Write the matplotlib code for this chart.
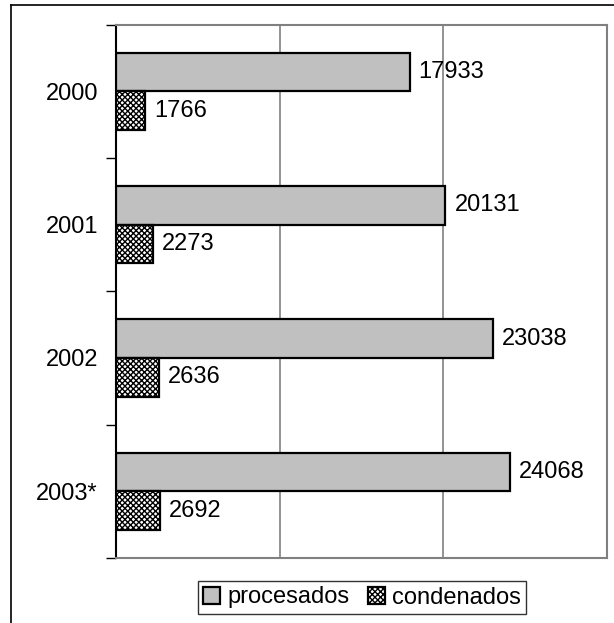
import numpy as np
import matplotlib.pyplot as plt
from matplotlib.lines import Line2D

plt.rcParams['font.family'] = ['Liberation Sans', 'DejaVu Sans']
plt.rcParams['hatch.linewidth'] = 1.0

years = ['2000', '2001', '2002', '2003*']
procesados = [17933, 20131, 23038, 24068]
condenados = [1766, 2273, 2636, 2692]

fig = plt.figure(figsize=(6.14, 6.23), dpi=100)
ax = fig.add_axes([116/614, 1 - 558/623, (607-116)/614, (558-24.5)/623])

y = np.arange(len(years))
h = 0.29
b1 = ax.barh(y - h/2, procesados, height=h, color='#c0c0c0', edgecolor='black', linewidth=1.6, zorder=3)
b2 = ax.barh(y + h/2, condenados, height=h, color='white', edgecolor='black', linewidth=1.6,
             hatch='xxxxxx', zorder=3)

for bars, vals in ((b1, procesados), (b2, condenados)):
    for bar, v in zip(bars, vals):
        ax.text(bar.get_width() + 550, bar.get_y() + bar.get_height()/2, str(v),
                va='center', ha='left', fontsize=17, zorder=4)

ax.set_xlim(0, 30000)
ax.set_ylim(len(years) - 0.5, -0.5)
ax.set_xticks([10000, 20000])
ax.xaxis.grid(True, color='#808080', linewidth=1.2, zorder=0)
ax.tick_params(axis='x', length=0, labelbottom=False)

ax.set_yticks(y)
ax.set_yticklabels(years, fontsize=17)
ax.set_yticks(np.arange(len(years) + 1) - 0.5, minor=True)
ax.tick_params(axis='y', which='major', length=0, pad=13)
ax.tick_params(axis='y', which='minor', length=7, width=1, direction='out')

for s in ('top', 'right', 'bottom'):
    ax.spines[s].set_color('#808080')
    ax.spines[s].set_linewidth(1.5)
ax.spines['left'].set_color('black')
ax.spines['left'].set_linewidth(1.5)

# outer frame (cut off at the right and bottom)
fig.add_artist(Line2D([10.5/614, 1], [1 - 4.5/623, 1 - 4.5/623], color='black', linewidth=1.2,
                      transform=fig.transFigure))
fig.add_artist(Line2D([10.5/614, 10.5/614], [0, 1 - 4.5/623], color='black', linewidth=1.2,
                      transform=fig.transFigure))

leg = fig.legend([b1, b2], ['procesados', 'condenados'], loc='center',
                 bbox_to_anchor=(362/614, 1 - 597.5/623), bbox_transform=fig.transFigure,
                 ncol=2, fontsize=17, frameon=True, fancybox=False, shadow=False,
                 handlelength=0.7, handleheight=0.7, handletextpad=0.3, columnspacing=0.8,
                 borderpad=0.25, borderaxespad=0)
leg.get_frame().set_edgecolor('black')
leg.get_frame().set_linewidth(1.0)

fig.savefig('out.png', dpi=100)
